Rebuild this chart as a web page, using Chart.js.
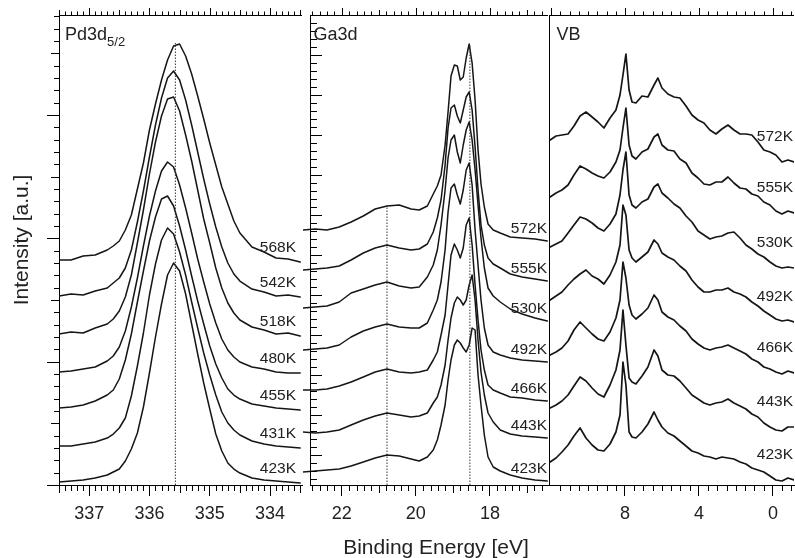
<!DOCTYPE html>
<html>
<head>
<meta charset="utf-8">
<script src="https://cdn.jsdelivr.net/npm/chart.js@4.4.1/dist/chart.umd.min.js"></script>
<style>
  html, body { margin: 0; padding: 0; background: #fff; }
  #wrap { position: relative; width: 795px; height: 558px; }
  #wrap canvas { position: absolute; top: 0; }
</style>
</head>
<body>
<div id="wrap">
  <canvas id="pd" width="305" height="558" style="left:0"></canvas>
  <canvas id="ga" width="246" height="558" style="left:303px"></canvas>
  <canvas id="vb" width="246" height="558" style="left:549px"></canvas>
</div>
<script>
// ---- Pd3d5/2 ----
const pdTemps = ['568K', '542K', '518K', '480K', '455K', '431K', '423K'];
const pdEnergy = [337.5, 337.3, 337.1, 336.9, 336.7, 336.6, 336.5, 336.4, 336.3, 336.2, 336.1, 336.0, 335.9, 335.8, 335.7, 335.6,
  335.5, 335.4, 335.3, 335.2, 335.1, 335.0, 334.9, 334.8, 334.7, 334.6, 334.5, 334.3, 334.1, 333.9, 333.7, 333.5];
const pd568 = [225, 225, 229, 230, 235, 239, 244, 255, 270, 296, 322, 355, 381, 405, 425, 439, 441, 429, 411, 389, 366, 342, 320, 298, 281, 264, 252, 238, 233, 227, 226, 223];
const pd542 = [189, 191, 190, 194, 197, 202, 207, 217, 235, 263, 294, 328, 360, 387, 407, 414, 405, 385, 360, 333, 306, 281, 258, 238, 222, 211, 204, 196, 193, 189, 190, 188];
const pd518 = [151, 153, 152, 157, 161, 166, 174, 188, 210, 242, 275, 311, 343, 369, 386, 388, 374, 350, 324, 295, 266, 242, 217, 197, 182, 172, 165, 158, 155, 151, 152, 149];
const pd480 = [113, 114, 116, 118, 124, 129, 138, 154, 178, 207, 239, 269, 294, 314, 323, 318, 300, 277, 252, 226, 203, 181, 162, 146, 135, 128, 123, 118, 116, 113, 112, 112];
const pd455 = [77, 78, 80, 84, 90, 95, 106, 125, 151, 183, 214, 244, 268, 286, 289, 279, 259, 235, 209, 184, 161, 139, 121, 107, 96, 90, 86, 81, 79, 77, 76, 75];
const pd431 = [39, 39, 41, 43, 47, 51, 57, 67, 89, 119, 152, 190, 221, 245, 257, 251, 233, 210, 183, 157, 132, 110, 90, 73, 62, 55, 50, 44, 41, 39, 38, 37];
const pd423 = [3, 4, 5, 7, 10, 13, 16, 24, 36, 52, 78, 112, 148, 181, 210, 222, 214, 191, 161, 131, 102, 76, 51, 34, 22, 16, 12, 7, 5, 4, 3, 2];
const pdTicks = [337, 336, 335, 334];
const pdGuideE = [335.57];
const pdGuideTop = [442];

// ---- Ga3d ----
const gaTemps = ['572K', '555K', '530K', '492K', '466K', '443K', '423K'];
const gaEnergy = [23.05, 22.72, 22.40, 22.07, 21.75, 21.42, 21.10, 20.78, 20.45, 20.13, 19.91, 19.69, 19.53, 19.42, 19.32, 19.21, 19.13, 19.05,
  18.96, 18.88, 18.80, 18.72, 18.64, 18.56, 18.48, 18.40, 18.32, 18.24, 18.15, 18.05, 17.91, 17.72, 17.45, 17.13, 16.78, 16.45];
const ga572 = [255, 256, 255, 258, 263, 269, 276, 279, 280, 276, 275, 279, 291, 299, 310, 340, 373, 409, 420, 419, 405, 408, 427, 441, 422, 385, 335, 301, 278, 261, 255, 252, 248, 247, 246, 244];
const ga555 = [215, 216, 217, 219, 225, 232, 237, 240, 237, 235, 236, 241, 253, 267, 285, 320, 357, 377, 380, 369, 362, 375, 388, 393, 375, 338, 295, 260, 240, 227, 221, 217, 211, 208, 206, 204];
const ga530 = [177, 178, 179, 183, 192, 196, 200, 203, 199, 197, 198, 208, 220, 235, 260, 295, 327, 345, 350, 333, 322, 340, 355, 363, 345, 315, 280, 247, 217, 197, 189, 183, 176, 171, 167, 164];
const ga492 = [135, 136, 137, 140, 148, 154, 158, 161, 158, 157, 157, 162, 175, 185, 203, 235, 273, 297, 301, 290, 281, 295, 315, 322, 300, 255, 220, 185, 157, 140, 133, 130, 127, 125, 124, 123];
const ga466 = [95, 95, 96, 99, 103, 108, 113, 116, 113, 112, 113, 115, 125, 133, 150, 170, 200, 230, 241, 235, 227, 237, 260, 267, 240, 200, 165, 135, 115, 100, 95, 92, 88, 87, 85, 84];
const ga443 = [53, 52, 53, 55, 60, 65, 69, 72, 70, 68, 69, 72, 82, 88, 100, 120, 145, 167, 182, 188, 185, 180, 185, 200, 210, 185, 145, 113, 90, 72, 63, 55, 51, 49, 48, 47];
const ga423 = [13, 14, 15, 16, 19, 23, 27, 30, 29, 26, 24, 28, 35, 45, 60, 80, 105, 125, 140, 145, 142, 137, 133, 140, 157, 155, 110, 80, 50, 28, 18, 14, 10, 7, 5, 4];
const gaTicks = [22, 20, 18];
const gaGuideE = [20.78, 18.54];
const gaGuideTop = [280, 440];

// ---- VB ----
const vbTemps = ['572K', '555K', '530K', '492K', '466K', '443K', '423K'];
const vbEnergy = [12.05, 11.73, 11.41, 11.08, 10.76, 10.43, 10.11, 9.78, 9.46, 9.14, 8.81, 8.49, 8.27, 8.11, 7.95, 7.78, 7.62, 7.41, 7.08, 6.76,
  6.43, 6.22, 6.00, 5.68, 5.35, 5.03, 4.70, 4.38, 4.05, 3.73, 3.41, 3.08, 2.76, 2.43, 2.11, 1.78, 1.46, 1.14, 0.81, 0.49, 0.16, -0.16, -0.49, -0.81, -1.14];
const vb572 = [345, 349, 350, 351, 359, 369, 373, 368, 363, 357, 367, 375, 390, 410, 431, 395, 383, 382, 389, 388, 400, 407, 397, 391, 388, 387, 379, 370, 365, 362, 355, 351, 356, 360, 355, 351, 351, 350, 343, 335, 333, 330, 323, 325, 323];
const vb555 = [288, 292, 295, 300, 310, 319, 316, 312, 309, 307, 313, 323, 335, 357, 377, 340, 329, 326, 333, 336, 348, 351, 340, 335, 334, 326, 322, 312, 307, 301, 300, 303, 303, 308, 302, 297, 296, 291, 289, 283, 280, 274, 271, 274, 272];
const vb530 = [238, 241, 244, 252, 260, 268, 266, 262, 257, 254, 261, 271, 290, 315, 333, 290, 280, 277, 283, 286, 298, 301, 292, 287, 281, 277, 269, 263, 254, 250, 246, 248, 249, 252, 253, 247, 240, 236, 231, 228, 223, 219, 217, 218, 217];
const vb492 = [185, 189, 193, 200, 206, 211, 215, 209, 206, 201, 210, 223, 240, 280, 270, 235, 227, 223, 228, 233, 245, 241, 232, 228, 225, 219, 214, 205, 198, 193, 193, 195, 195, 197, 193, 191, 188, 183, 179, 174, 170, 166, 164, 165, 163];
const vb466 = [130, 133, 137, 144, 155, 163, 157, 151, 146, 144, 153, 167, 185, 223, 207, 180, 170, 166, 171, 177, 190, 185, 173, 168, 165, 159, 154, 146, 141, 137, 135, 137, 138, 140, 137, 134, 131, 126, 123, 118, 116, 113, 111, 114, 112];
const vb443 = [77, 80, 84, 90, 99, 108, 104, 97, 91, 88, 100, 115, 135, 175, 140, 107, 103, 101, 109, 118, 135, 129, 115, 110, 109, 104, 97, 90, 86, 82, 80, 82, 83, 86, 82, 79, 76, 71, 68, 62, 58, 55, 54, 58, 58];
const vb423 = [23, 27, 33, 40, 49, 57, 47, 40, 35, 34, 41, 53, 70, 123, 100, 53, 48, 47, 53, 61, 73, 65, 58, 52, 49, 44, 39, 34, 32, 29, 28, 26, 28, 27, 26, 23, 21, 17, 15, 13, 9, 5, 4, 7, 5];
const vbTicks = [8, 4, 0];

const FONT = '"Liberation Sans", Arial, Helvetica, sans-serif';
const INK = '#151515';
const TXT = '#222';

// unlabelled intensity ticks on the left frame (filled 1px bars)
function drawSideTicks(chart, cfg) {
  if (!cfg.yCount) return;
  const { ctx, chartArea: a, scales: { y } } = chart;
  ctx.save();
  ctx.fillStyle = '#000';
  const ax = Math.round(a.left);
  for (let k = 0; k < cfg.yCount; k++) {
    const py = Math.round(y.getPixelForValue(cfg.yStart + k * cfg.yStep));
    const len = cfg.yLen(k);
    if (cfg.yDir > 0) ctx.fillRect(ax, py, len + 1, 1);
    else ctx.fillRect(ax - len, py, len + 1, 1);
  }
  ctx.restore();
}

// top axis, minor energy ticks, panel title, temperature labels
function panelDeco(cfg) {
  return {
    id: 'deco_' + cfg.title,
    afterDatasetsDraw(chart) {
      drawSideTicks(chart, cfg);
    },
    afterDraw(chart) {
      const { ctx, chartArea: a, scales: { x, y } } = chart;
      drawSideTicks(chart, cfg);
      ctx.save();
      ctx.strokeStyle = '#000';
      ctx.lineWidth = 1;
      ctx.setLineDash([]);
      ctx.beginPath();
      ctx.moveTo(a.left, a.top + 0.5);
      ctx.lineTo(a.right, a.top + 0.5);
      const lo = Math.min(x.min, x.max), hi = Math.max(x.min, x.max);
      const k0 = Math.ceil(lo / cfg.xMinor - 1e-6), k1 = Math.floor(hi / cfg.xMinor + 1e-6);
      for (let k = k0; k <= k1; k++) {
        const px = Math.round(x.getPixelForValue(k * cfg.xMinor)) + 0.5;
        const major = k % cfg.xMajorEvery === 0;
        const medium = cfg.xMedEvery && k % cfg.xMedEvery === 0;
        const up = major ? 7 : medium ? 5 : 3.5;
        ctx.moveTo(px, a.top);
        ctx.lineTo(px, a.top - up);
        if (!major) {
          ctx.moveTo(px, a.bottom);
          ctx.lineTo(px, a.bottom + (medium ? 8 : 6));
        }
      }
      ctx.stroke();

      ctx.fillStyle = TXT;
      ctx.textAlign = 'left';
      ctx.textBaseline = 'alphabetic';
      ctx.font = '18px ' + FONT;
      ctx.fillText(cfg.title, a.left + cfg.titleDx, 40);
      if (cfg.sub) {
        const w = ctx.measureText(cfg.title).width;
        ctx.font = '13px ' + FONT;
        ctx.fillText(cfg.sub, a.left + cfg.titleDx + w, 46);
      }

      ctx.font = '15.5px ' + FONT;
      ctx.textAlign = 'right';
      ctx.textBaseline = 'middle';
      cfg.spectra.forEach((vals, i) => {
        const py = y.getPixelForValue(vals[vals.length - 1]) - cfg.labelLift;
        ctx.fillText(cfg.temps[i], a.right - cfg.labelInset, py);
      });

      ctx.font = '21px ' + FONT;
      ctx.textAlign = 'center';
      ctx.textBaseline = 'alphabetic';
      if (cfg.xTitleAt != null) {
        ctx.fillText('Binding Energy [eV]', cfg.xTitleAt, 554);
      }
      if (cfg.yTitleAt != null) {
        ctx.translate(cfg.yTitleAt, 240);
        ctx.rotate(-Math.PI / 2);
        ctx.fillText('Intensity [a.u.]', 0, 0);
      }
      ctx.restore();
    }
  };
}

function makeChart(id, cfg) {
  const datasets = [];
  cfg.guides.forEach((e, i) => datasets.push({
    data: [{ x: e, y: 0 }, { x: e, y: cfg.guideTop[i] }],
    borderColor: '#333', borderWidth: 1, borderDash: [1.5, 1.5], pointRadius: 0
  }));
  cfg.spectra.forEach(vals => datasets.push({
    data: cfg.energy.map((e, i) => ({ x: e, y: vals[i] })),
    borderColor: INK, borderWidth: cfg.lineWidth, pointRadius: 0,
    borderJoinStyle: 'round', borderCapStyle: 'round',
    clip: cfg.clip
  }));

  return new Chart(document.getElementById(id), {
    type: 'line',
    data: { datasets },
    options: {
      responsive: false,
      animation: false,
      devicePixelRatio: 1,
      events: [],
      layout: { padding: { left: cfg.padLeft, right: cfg.padRight, top: 15, bottom: 0 } },
      plugins: { legend: { display: false }, tooltip: { enabled: false } },
      scales: {
        x: {
          type: 'linear',
          reverse: true,
          min: cfg.xMin,
          max: cfg.xMax,
          afterBuildTicks: s => { s.ticks = cfg.ticks.map(v => ({ value: v })); },
          afterFit: s => { s.height = 73; },
          grid: { display: true, drawOnChartArea: false, drawTicks: true, tickLength: 11, color: '#000', lineWidth: 1 },
          border: { display: true, color: '#000', width: 1 },
          ticks: { color: TXT, font: { family: FONT, size: 18 }, padding: 7, maxRotation: 0, autoSkip: false }
        },
        y: {
          type: 'linear',
          min: 0,
          max: 470,
          afterFit: s => { s.width = 0; },
          grid: { display: false, drawTicks: false },
          border: { display: true, color: '#000', width: 1 },
          ticks: { display: false }
        }
      }
    },
    plugins: [panelDeco(cfg)]
  });
}

// canvas pd spans 0..305, ga 303..549, vb 549..795 (page x)
makeChart('pd', {
  padLeft: 59, padRight: 3, xMin: 333.47, xMax: 337.5, ticks: pdTicks,
  energy: pdEnergy, spectra: [pd568, pd542, pd518, pd480, pd455, pd431, pd423], temps: pdTemps,
  guides: pdGuideE, guideTop: pdGuideTop, lineWidth: 1.5, clip: 0,
  xMinor: 0.1, xMedEvery: 5, xMajorEvery: 10,
  yCount: 39, yStep: 12.33, yStart: 0, yDir: -1, yLen: k => (k % 10 === 0 ? 12 : k % 5 === 0 ? 8 : 5),
  title: 'Pd3d', sub: '5/2', titleDx: 6, labelLift: 14.5, labelInset: 6, yTitleAt: 28
});

makeChart('ga', {
  padLeft: 7, padRight: 1, xMin: 16.43, xMax: 22.86, ticks: gaTicks,
  energy: gaEnergy, spectra: [ga572, ga555, ga530, ga492, ga466, ga443, ga423], temps: gaTemps,
  guides: gaGuideE, guideTop: gaGuideTop, lineWidth: 1.5, clip: false,
  xMinor: 0.2, xMedEvery: 5, xMajorEvery: 10,
  yCount: 58, yStep: 8, yStart: 6, yDir: 1, yLen: k => (k % 5 === 3 ? 11 : 6),
  title: 'Ga3d', titleDx: 3.5, labelLift: 12.5, labelInset: 1, xTitleAt: 133
});

makeChart('vb', {
  padLeft: 0, padRight: 1, xMin: -1.14, xMax: 12.11, ticks: vbTicks,
  energy: vbEnergy, spectra: [vb572, vb555, vb530, vb492, vb466, vb443, vb423], temps: vbTemps,
  guides: [], guideTop: [], lineWidth: 1.7, clip: 0,
  xMinor: 0.5, xMedEvery: 0, xMajorEvery: 8,
  title: 'VB', titleDx: 7.5, labelLift: 25, labelInset: 1
});
</script>
</body>
</html>
